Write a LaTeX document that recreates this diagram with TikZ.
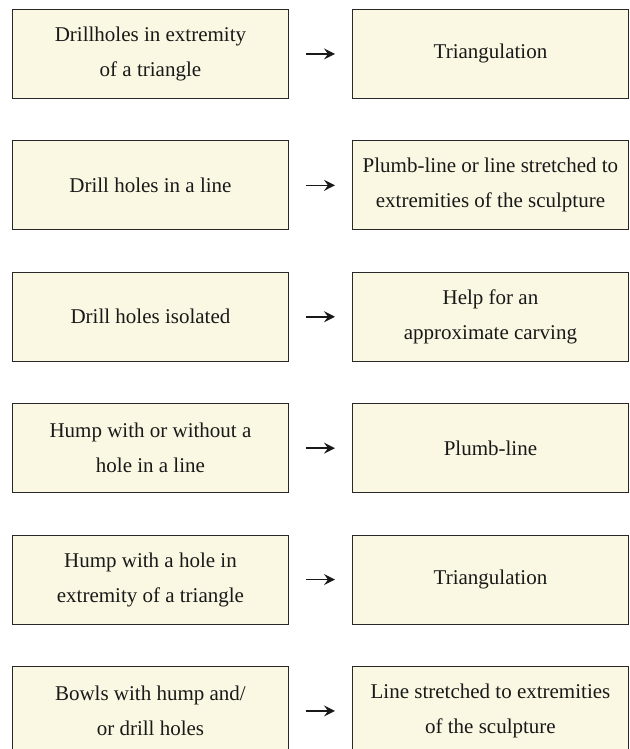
\documentclass[tikz,border=0pt]{standalone}
\usepackage{fontspec}
\setmainfont{Liberation Serif}
\usetikzlibrary{arrows.meta}
\definecolor{boxfill}{RGB}{250,248,226}
\definecolor{boxline}{RGB}{40,40,40}
\tikzset{
  cbox/.style={draw=boxline, line width=0.9pt, fill=boxfill, minimum width=276pt,
    minimum height=89pt, anchor=north west, align=center, inner sep=0pt,
    font=\fontsize{21}{35}\selectfont, text=black!90},
  conn/.style={line width=1.5pt, black!90, shorten <=17pt, shorten >=17pt,
    -{Stealth[length=11pt,width=11pt,inset=4pt]}}
}
\begin{document}
\begin{tikzpicture}[x=1pt,y=1pt]
\clip (0,0) rectangle (629,-749);
\fill[white] (0,0) rectangle (629,-749);
\node[cbox] (l1) at (12,-9) {Drillholes in extremity\\of a triangle};
\node[cbox] (r1) at (352,-9) {Triangulation};
\node[cbox] (l2) at (12,-140.4) {Drill holes in a line};
\node[cbox] (r2) at (352,-140.4) {Plumb-line or line stretched to\\extremities of the sculpture};
\node[cbox] (l3) at (12,-271.8) {Drill holes isolated};
\node[cbox] (r3) at (352,-271.8) {Help for an\\approximate carving};
\node[cbox] (l4) at (12,-403.2) {Hump with or without a\\hole in a line};
\node[cbox] (r4) at (352,-403.2) {Plumb-line};
\node[cbox] (l5) at (12,-534.6) {Hump with a hole in\\extremity of a triangle};
\node[cbox] (r5) at (352,-534.6) {Triangulation};
\node[cbox] (l6) at (12,-666) {Bowls with hump and/\\or drill holes};
\node[cbox] (r6) at (352,-666) {Line stretched to extremities\\of the sculpture};
\foreach \i in {1,...,6}{\draw[conn] (l\i.east) -- (r\i.west);}
\end{tikzpicture}
\end{document}
